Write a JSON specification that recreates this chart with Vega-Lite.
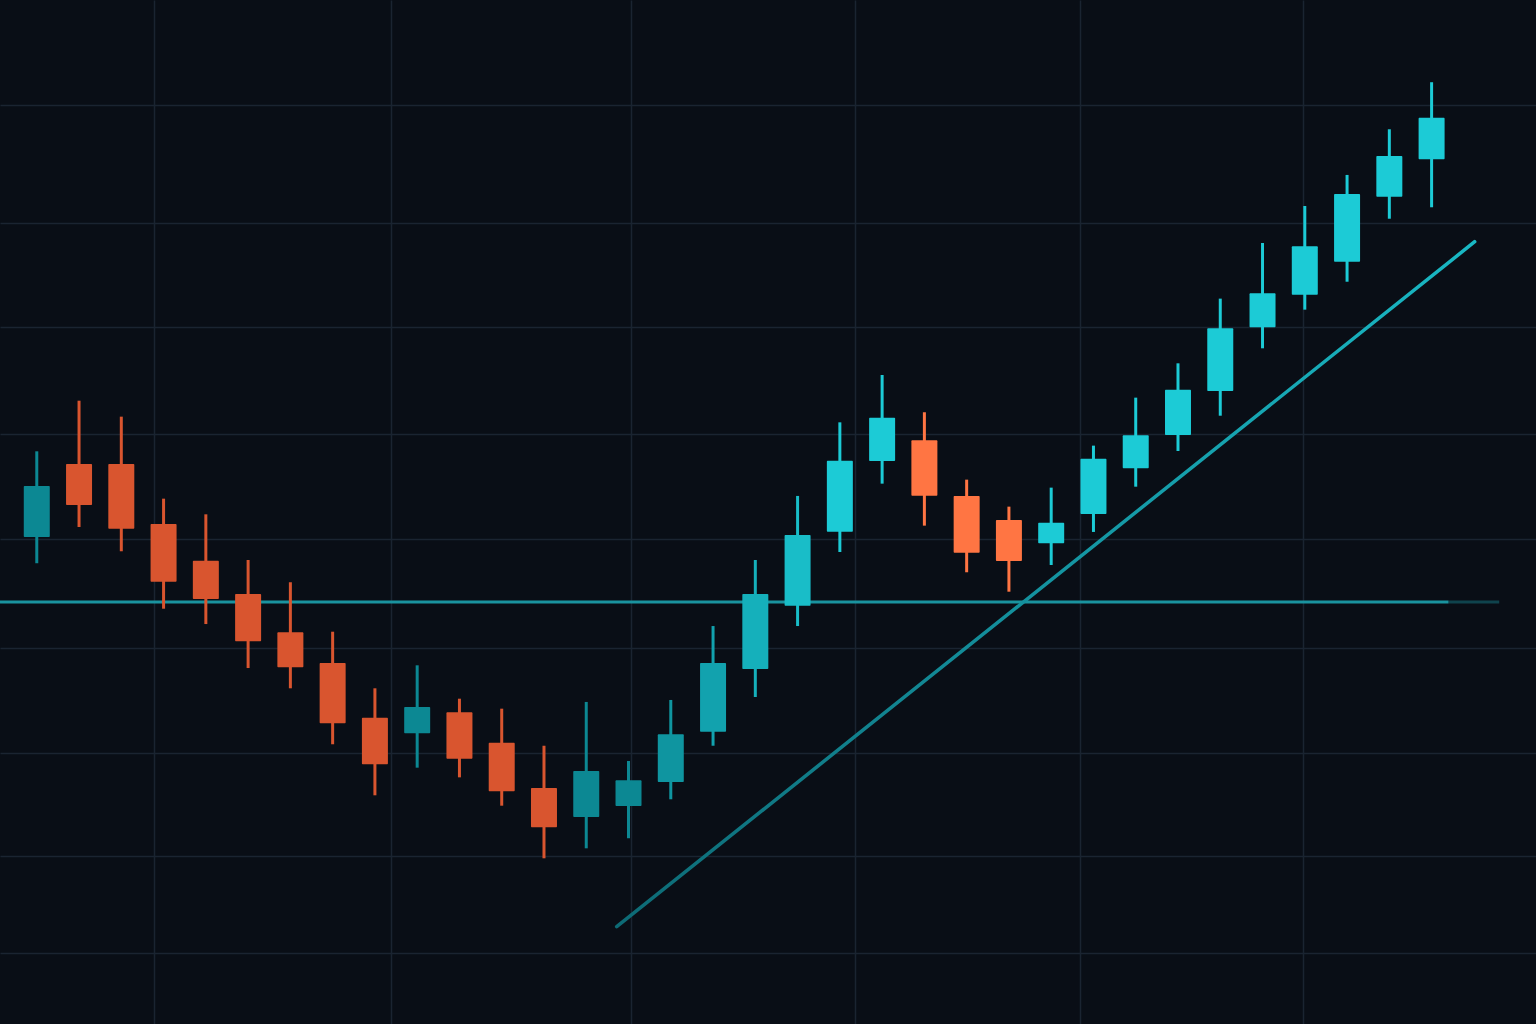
{
  "$schema": "https://vega.github.io/schema/vega-lite/v6.json",
  "description": "Candlestick chart with support level and rising trend line",
  "width": 1536,
  "height": 1024,
  "autosize": {"type": "none"},
  "padding": 0,
  "background": "#090e16",
  "config": {
    "view": {"stroke": null},
    "axis": {
      "labels": false,
      "ticks": false,
      "domain": false,
      "title": null,
      "grid": true,
      "gridColor": "#1a2431",
      "gridWidth": 1.5
    }
  },
  "datasets": {
    "candles": [
      {"day": 1, "open": 110.19, "high": 118.35, "low": 107.69, "close": 115.05, "dir": "up"},
      {"day": 2, "open": 117.14, "high": 123.17, "low": 111.14, "close": 113.24, "dir": "down"},
      {"day": 3, "open": 117.14, "high": 121.65, "low": 108.83, "close": 110.98, "dir": "down"},
      {"day": 4, "open": 111.43, "high": 113.84, "low": 103.36, "close": 105.93, "dir": "down"},
      {"day": 5, "open": 107.93, "high": 112.35, "low": 101.9, "close": 104.29, "dir": "down"},
      {"day": 6, "open": 104.76, "high": 108.0, "low": 97.71, "close": 100.26, "dir": "down"},
      {"day": 7, "open": 101.11, "high": 105.88, "low": 95.78, "close": 97.78, "dir": "down"},
      {"day": 8, "open": 98.19, "high": 101.17, "low": 90.45, "close": 92.45, "dir": "down"},
      {"day": 9, "open": 92.98, "high": 95.78, "low": 85.59, "close": 88.54, "dir": "down"},
      {"day": 10, "open": 91.5, "high": 97.97, "low": 88.22, "close": 94.0, "dir": "up"},
      {"day": 11, "open": 93.5, "high": 94.79, "low": 87.3, "close": 89.08, "dir": "down"},
      {"day": 12, "open": 90.6, "high": 93.84, "low": 84.6, "close": 85.97, "dir": "down"},
      {"day": 13, "open": 86.29, "high": 90.31, "low": 79.59, "close": 82.54, "dir": "down"},
      {"day": 14, "open": 83.52, "high": 94.48, "low": 80.54, "close": 87.9, "dir": "up"},
      {"day": 15, "open": 84.57, "high": 88.86, "low": 81.5, "close": 87.02, "dir": "up"},
      {"day": 16, "open": 86.86, "high": 94.67, "low": 85.21, "close": 91.4, "dir": "up"},
      {"day": 17, "open": 91.65, "high": 101.71, "low": 90.31, "close": 98.19, "dir": "up"},
      {"day": 18, "open": 97.62, "high": 108.0, "low": 94.95, "close": 104.76, "dir": "up"},
      {"day": 19, "open": 103.65, "high": 114.1, "low": 101.71, "close": 110.38, "dir": "up"},
      {"day": 20, "open": 110.7, "high": 121.11, "low": 108.76, "close": 117.46, "dir": "up"},
      {"day": 21, "open": 117.43, "high": 125.62, "low": 115.27, "close": 121.55, "dir": "up"},
      {"day": 22, "open": 119.4, "high": 122.07, "low": 111.27, "close": 114.12, "dir": "down"},
      {"day": 23, "open": 114.1, "high": 115.65, "low": 106.83, "close": 108.7, "dir": "down"},
      {"day": 24, "open": 111.81, "high": 113.08, "low": 104.98, "close": 107.9, "dir": "down"},
      {"day": 25, "open": 109.59, "high": 114.89, "low": 107.52, "close": 111.55, "dir": "up"},
      {"day": 26, "open": 112.38, "high": 118.89, "low": 110.67, "close": 117.65, "dir": "up"},
      {"day": 27, "open": 116.73, "high": 123.46, "low": 114.98, "close": 119.88, "dir": "up"},
      {"day": 28, "open": 119.9, "high": 126.73, "low": 118.38, "close": 124.22, "dir": "up"},
      {"day": 29, "open": 124.1, "high": 132.89, "low": 121.74, "close": 130.07, "dir": "up"},
      {"day": 30, "open": 130.16, "high": 138.19, "low": 128.16, "close": 133.4, "dir": "up"},
      {"day": 31, "open": 133.27, "high": 141.71, "low": 131.84, "close": 137.88, "dir": "up"},
      {"day": 32, "open": 136.41, "high": 144.67, "low": 134.5, "close": 142.86, "dir": "up"},
      {"day": 33, "open": 142.6, "high": 149.02, "low": 140.5, "close": 146.48, "dir": "up"},
      {"day": 34, "open": 146.16, "high": 153.5, "low": 141.59, "close": 150.12, "dir": "up"}
    ],
    "trend": [
      {"day": 14.72, "price": 73.08},
      {"day": 35.02, "price": 138.31}
    ]
  },
  "encoding": {
    "x": {
      "type": "quantitative",
      "scale": {"domain": [0.13, 36.47], "nice": false, "zero": false, "padding": 0},
      "axis": {"values": [3.77, 9.38, 15.07, 20.37, 25.69, 30.95]}
    },
    "y": {
      "type": "quantitative",
      "scale": {"domain": [63.81, 161.33], "nice": false, "zero": false, "padding": 0},
      "axis": {"values": [70.57, 79.81, 89.62, 99.62, 110, 120, 130.19, 140.1, 151.33]}
    }
  },
  "layer": [
    {
      "data": {"values": [{"from": 0.13, "to": 34.4, "level": 104}]},
      "mark": {"type": "rule", "color": "#1a939f", "strokeWidth": 3},
      "encoding": {
        "x": {"field": "from", "type": "quantitative"},
        "x2": {"field": "to"},
        "y": {"field": "level", "type": "quantitative"}
      }
    },
    {
      "data": {"values": [{"from": 34.4, "to": 35.6, "level": 104}]},
      "mark": {"type": "rule", "color": "#1a939f", "strokeWidth": 3, "opacity": 0.4},
      "encoding": {
        "x": {"field": "from", "type": "quantitative"},
        "x2": {"field": "to"},
        "y": {"field": "level", "type": "quantitative"}
      }
    },
    {
      "data": {"name": "trend"},
      "mark": {
        "type": "line",
        "strokeWidth": 3.5,
        "strokeCap": "round",
        "stroke": {
          "gradient": "linear",
          "x1": 0, "y1": 0, "x2": 1, "y2": 0,
          "stops": [
            {"offset": 0, "color": "#0d6a75"},
            {"offset": 0.5, "color": "#1493a0"},
            {"offset": 1, "color": "#19b8c4"}
          ]
        }
      },
      "encoding": {
        "x": {"field": "day", "type": "quantitative"},
        "y": {"field": "price", "type": "quantitative"}
      }
    },
    {
      "data": {"name": "candles"},
      "transform": [{"filter": "datum.dir == 'up'"}],
      "encoding": {
        "x": {"field": "day", "type": "quantitative"},
        "color": {
          "field": "day",
          "type": "quantitative",
          "scale": {"domain": [15, 20], "range": ["#0c8893", "#1ccbd6"], "clamp": true},
          "legend": null
        }
      },
      "layer": [
        {
          "mark": {"type": "rule", "strokeWidth": 3},
          "encoding": {
            "y": {"field": "low", "type": "quantitative"},
            "y2": {"field": "high"}
          }
        },
        {
          "mark": {"type": "bar", "size": 26, "cornerRadius": 1},
          "encoding": {
            "y": {"field": "open", "type": "quantitative"},
            "y2": {"field": "close"}
          }
        }
      ]
    },
    {
      "data": {"name": "candles"},
      "transform": [{"filter": "datum.dir == 'down'"}],
      "encoding": {
        "x": {"field": "day", "type": "quantitative"},
        "color": {
          "field": "day",
          "type": "quantitative",
          "scale": {"domain": [13, 22], "range": ["#d9552f", "#ff7543"], "clamp": true},
          "legend": null
        }
      },
      "layer": [
        {
          "mark": {"type": "rule", "strokeWidth": 3},
          "encoding": {
            "y": {"field": "low", "type": "quantitative"},
            "y2": {"field": "high"}
          }
        },
        {
          "mark": {"type": "bar", "size": 26, "cornerRadius": 1},
          "encoding": {
            "y": {"field": "open", "type": "quantitative"},
            "y2": {"field": "close"}
          }
        }
      ]
    }
  ],
  "resolve": {"scale": {"color": "independent"}}
}
